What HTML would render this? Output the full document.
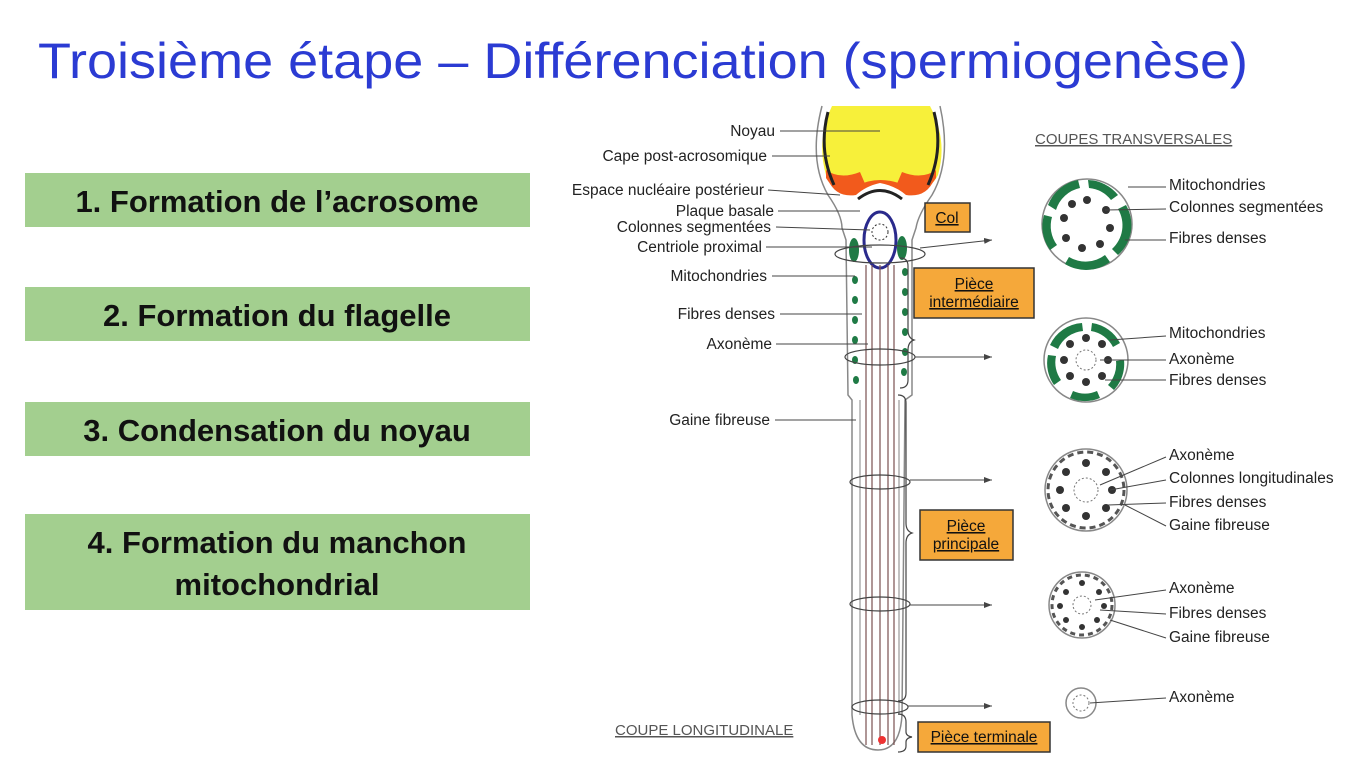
<!DOCTYPE html>
<html><head><meta charset="utf-8"><style>
body{margin:0;background:#fff;width:1364px;height:757px;overflow:hidden;font-family:"Liberation Sans",sans-serif}
</style></head><body>
<svg width="1364" height="757" viewBox="0 0 1364 757" xmlns="http://www.w3.org/2000/svg" font-family="Liberation Sans, sans-serif">
<defs><marker id="ar" markerWidth="8" markerHeight="6" refX="8" refY="3" orient="auto"><path d="M0 0 L8 3 L0 6 z" fill="#444"/></marker></defs>
<text x="38" y="78" font-size="50" fill="#2b3bd3" textLength="1210" lengthAdjust="spacingAndGlyphs">Troisième étape – Différenciation (spermiogenèse)</text>
<g fill="#a3cf8f">
<rect x="25" y="173" width="505" height="54"/><rect x="25" y="287" width="505" height="54"/>
<rect x="25" y="402" width="505" height="54"/><rect x="25" y="514" width="505" height="96"/>
</g>
<g font-size="31" font-weight="bold" fill="#111" text-anchor="middle">
<text x="277" y="212">1. Formation de l’acrosome</text>
<text x="277" y="326">2. Formation du flagelle</text>
<text x="277" y="441">3. Condensation du noyau</text>
<text x="277" y="553">4. Formation du manchon</text>
<text x="277" y="595">mitochondrial</text>
</g>
<!-- sperm longitudinal -->
<path d="M822 106 Q808 160 828 195 Q842 215 842 228 L846 240 L848 395 L852 400 L852 715 Q855 750 878 750 Q900 750 902 715 L905 400 L912 395 L912 240 L916 228 Q918 215 932 195 Q952 160 940 106" fill="#fff" stroke="#888" stroke-width="1.5"/>
<path d="M832 106 L930 106 Q948 140 938 175 Q928 195 905 188 Q880 176 858 188 Q834 195 826 175 Q816 140 832 106 Z" fill="#f7f03a"/>
<path d="M828 180 Q836 198 856 195 Q866 186 880 183 Q896 186 906 195 Q926 198 934 180 Q928 190 906 186 Q880 174 856 186 Q834 190 828 180 Z" fill="#f25a1c"/>
<path d="M826 178 Q840 200 858 192 L866 186 L860 172 Q840 180 826 170 Z M936 178 Q922 200 904 192 L896 186 L902 172 Q922 180 936 170 Z" fill="#f25a1c"/>
<path d="M828 112 Q818 150 834 185 M934 112 Q944 150 928 185" stroke="#222" stroke-width="3" fill="none"/>
<path d="M858 199 Q880 182 902 199" stroke="#222" stroke-width="3" fill="none"/>
<ellipse cx="880" cy="240" rx="16" ry="28" fill="#fff" stroke="#2a2a8c" stroke-width="3"/>
<circle cx="880" cy="232" r="8" fill="none" stroke="#333" stroke-dasharray="2 2"/>
<g fill="#1f7a45">
<ellipse cx="854" cy="250" rx="5" ry="12"/><ellipse cx="902" cy="248" rx="5" ry="12"/>
<ellipse cx="855" cy="280" rx="3" ry="4"/><ellipse cx="855" cy="300" rx="3" ry="4"/><ellipse cx="855" cy="320" rx="3" ry="4"/><ellipse cx="855" cy="340" rx="3" ry="4"/><ellipse cx="855" cy="360" rx="3" ry="4"/><ellipse cx="856" cy="380" rx="3" ry="4"/>
<ellipse cx="905" cy="272" rx="3" ry="4"/><ellipse cx="905" cy="292" rx="3" ry="4"/><ellipse cx="905" cy="312" rx="3" ry="4"/><ellipse cx="905" cy="332" rx="3" ry="4"/><ellipse cx="905" cy="352" rx="3" ry="4"/><ellipse cx="904" cy="372" rx="3" ry="4"/>
</g>
<g stroke="#7a5050" stroke-width="1.2">
<line x1="866" y1="265" x2="866" y2="745"/><line x1="872" y1="265" x2="872" y2="745"/><line x1="880" y1="265" x2="880" y2="745"/><line x1="888" y1="265" x2="888" y2="745"/><line x1="894" y1="265" x2="894" y2="745"/>
<line x1="860" y1="400" x2="860" y2="715" stroke="#999"/><line x1="899" y1="400" x2="899" y2="715" stroke="#999"/>
</g>
<g fill="none" stroke="#444" stroke-width="1.2">
<ellipse cx="880" cy="254" rx="45" ry="9"/><ellipse cx="880" cy="357" rx="35" ry="8"/><ellipse cx="880" cy="482" rx="30" ry="7"/><ellipse cx="880" cy="604" rx="30" ry="7"/><ellipse cx="880" cy="707" rx="28" ry="7"/>
<path d="M900 258 q8 0 8 8 v64 q0 8 6 10 q-6 2 -6 10 v30 q0 8 -8 8"/>
<path d="M898 395 q8 0 8 8 v120 q0 8 6 10 q-6 2 -6 10 v150 q0 8 -8 8"/>
<path d="M898 714 q8 0 8 8 v10 q0 4 6 5 q-6 1 -6 5 v4 q0 6 -8 6"/>
</g>
<circle cx="882" cy="740" r="4" fill="#e33" />
<g stroke="#444" stroke-width="1" marker-end="url(#ar)">
<line x1="920" y1="248" x2="992" y2="240"/><line x1="915" y1="357" x2="992" y2="357"/><line x1="910" y1="480" x2="992" y2="480"/><line x1="910" y1="605" x2="992" y2="605"/><line x1="908" y1="706" x2="992" y2="706"/>
</g>
<g stroke="#444" stroke-width="1">
<line x1="780" y1="131" x2="880" y2="131"/><line x1="772" y1="156" x2="830" y2="156"/><line x1="768" y1="190" x2="840" y2="195"/><line x1="778" y1="211" x2="860" y2="211"/><line x1="776" y1="227" x2="870" y2="230"/><line x1="766" y1="247" x2="872" y2="247"/><line x1="772" y1="276" x2="855" y2="276"/><line x1="780" y1="314" x2="862" y2="314"/><line x1="776" y1="344" x2="868" y2="344"/><line x1="775" y1="420" x2="856" y2="420"/>
</g>
<g font-size="15.5" fill="#222" text-anchor="end">
<text x="775" y="136">Noyau</text><text x="767" y="161">Cape post-acrosomique</text><text x="764" y="195">Espace nucléaire postérieur</text><text x="774" y="216">Plaque basale</text><text x="771" y="232">Colonnes segmentées</text><text x="762" y="252">Centriole proximal</text><text x="767" y="281">Mitochondries</text><text x="775" y="319">Fibres denses</text><text x="772" y="349">Axonème</text><text x="770" y="425">Gaine fibreuse</text>
</g>
<text x="615" y="735" font-size="15" fill="#555" text-decoration="underline">COUPE LONGITUDINALE</text>
<text x="1035" y="144" font-size="15" fill="#555" text-decoration="underline">COUPES TRANSVERSALES</text>
<g fill="#f5a83a" stroke="#333" stroke-width="1.5">
<rect x="925" y="203" width="45" height="29"/><rect x="914" y="268" width="120" height="50"/><rect x="920" y="510" width="93" height="50"/><rect x="918" y="722" width="132" height="30"/>
</g>
<g font-size="15.5" fill="#111" text-anchor="middle" text-decoration="underline">
<text x="947" y="223">Col</text><text x="974" y="289">Pièce</text><text x="974" y="307">intermédiaire</text><text x="966" y="531">Pièce</text><text x="966" y="549">principale</text><text x="984" y="742">Pièce terminale</text>
</g>
<!-- cross sections -->
<g fill="none" stroke="#888" stroke-width="1.5">
<circle cx="1087" cy="224" r="45"/><circle cx="1086" cy="360" r="42"/><circle cx="1086" cy="490" r="41"/><circle cx="1082" cy="605" r="33"/><circle cx="1081" cy="703" r="15"/>
</g>
<g fill="#1f7a45">
<path d="M1048 205 a40 40 0 0 1 30 -25 l2 8 a32 32 0 0 0 -24 22 z"/><path d="M1088 180 a40 40 0 0 1 30 15 l-7 5 a32 32 0 0 0 -22 -12 z"/><path d="M1126 205 a40 40 0 0 1 -8 50 l-6 -6 a32 32 0 0 0 6 -40 z"/><path d="M1110 262 a40 40 0 0 1 -45 2 l4 -7 a32 32 0 0 0 36 -2 z"/><path d="M1050 250 a40 40 0 0 1 -6 -35 l8 2 a32 32 0 0 0 5 28 z"/>
<path d="M1050 345 a38 38 0 0 1 32 -22 l1 8 a30 30 0 0 0 -25 18 z"/><path d="M1092 323 a38 38 0 0 1 28 20 l-7 4 a30 30 0 0 0 -22 -16 z"/><path d="M1124 360 a38 38 0 0 1 -10 30 l-6 -5 a30 30 0 0 0 8 -24 z"/><path d="M1100 398 a38 38 0 0 1 -30 0 l3 -7 a30 30 0 0 0 24 0 z"/><path d="M1054 385 a38 38 0 0 1 -6 -30 l8 1 a30 30 0 0 0 5 24 z"/>
</g>
<g fill="#333">
<circle cx="1087" cy="200" r="4"/><circle cx="1106" cy="210" r="4"/><circle cx="1110" cy="228" r="4"/><circle cx="1100" cy="244" r="4"/><circle cx="1082" cy="248" r="4"/><circle cx="1066" cy="238" r="4"/><circle cx="1064" cy="218" r="4"/><circle cx="1072" cy="204" r="4"/>
<circle cx="1086" cy="338" r="4"/><circle cx="1102" cy="344" r="4"/><circle cx="1108" cy="360" r="4"/><circle cx="1102" cy="376" r="4"/><circle cx="1086" cy="382" r="4"/><circle cx="1070" cy="376" r="4"/><circle cx="1064" cy="360" r="4"/><circle cx="1070" cy="344" r="4"/>
<circle cx="1086" cy="463" r="4"/><circle cx="1106" cy="472" r="4"/><circle cx="1112" cy="490" r="4"/><circle cx="1106" cy="508" r="4"/><circle cx="1086" cy="516" r="4"/><circle cx="1066" cy="508" r="4"/><circle cx="1060" cy="490" r="4"/><circle cx="1066" cy="472" r="4"/>
<circle cx="1082" cy="583" r="3"/><circle cx="1099" cy="592" r="3"/><circle cx="1104" cy="606" r="3"/><circle cx="1097" cy="620" r="3"/><circle cx="1082" cy="627" r="3"/><circle cx="1066" cy="620" r="3"/><circle cx="1060" cy="606" r="3"/><circle cx="1066" cy="592" r="3"/>
</g>
<g fill="none" stroke="#555" stroke-width="3"><circle cx="1086" cy="490" r="38" stroke-dasharray="6 4"/><circle cx="1082" cy="605" r="30" stroke-dasharray="5 4"/></g>
<g fill="none" stroke="#777" stroke-dasharray="2 2"><circle cx="1086" cy="360" r="10"/><circle cx="1086" cy="490" r="12"/><circle cx="1082" cy="605" r="9"/><circle cx="1081" cy="703" r="8"/></g>
<g stroke="#444" stroke-width="1">
<line x1="1128" y1="187" x2="1166" y2="187"/><line x1="1105" y1="210" x2="1166" y2="209"/><line x1="1125" y1="240" x2="1166" y2="240"/>
<line x1="1110" y1="340" x2="1166" y2="336"/><line x1="1100" y1="360" x2="1166" y2="360"/><line x1="1105" y1="380" x2="1166" y2="380"/>
<line x1="1100" y1="485" x2="1166" y2="457"/><line x1="1110" y1="490" x2="1166" y2="480"/><line x1="1108" y1="505" x2="1166" y2="503"/><line x1="1125" y1="505" x2="1166" y2="526"/>
<line x1="1095" y1="600" x2="1166" y2="590"/><line x1="1100" y1="610" x2="1166" y2="614"/><line x1="1110" y1="620" x2="1166" y2="638"/>
<line x1="1090" y1="703" x2="1166" y2="698"/>
</g>
<g font-size="15.5" fill="#222">
<text x="1169" y="190">Mitochondries</text><text x="1169" y="212">Colonnes segmentées</text><text x="1169" y="243">Fibres denses</text>
<text x="1169" y="338">Mitochondries</text><text x="1169" y="364">Axonème</text><text x="1169" y="385">Fibres denses</text>
<text x="1169" y="460">Axonème</text><text x="1169" y="483">Colonnes longitudinales</text><text x="1169" y="507">Fibres denses</text><text x="1169" y="530">Gaine fibreuse</text>
<text x="1169" y="593">Axonème</text><text x="1169" y="618">Fibres denses</text><text x="1169" y="642">Gaine fibreuse</text>
<text x="1169" y="702">Axonème</text>
</g>
</svg>
</body></html>
